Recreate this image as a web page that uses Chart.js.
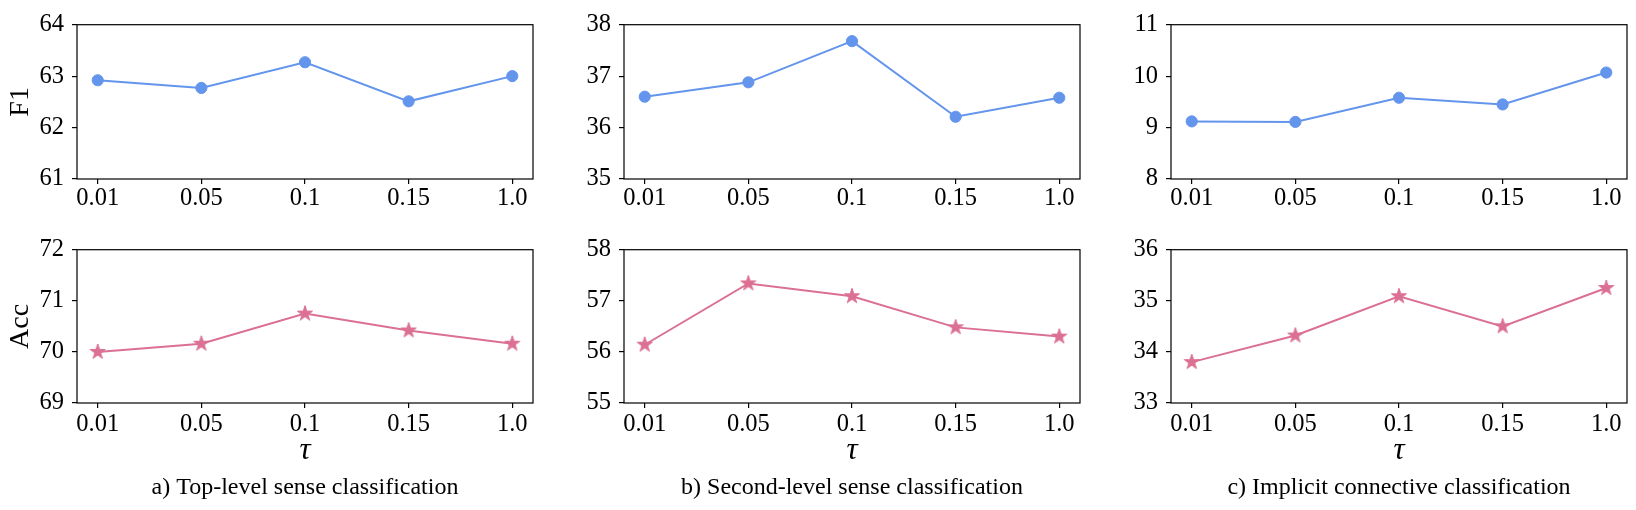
<!DOCTYPE html>
<html><head><meta charset="utf-8">
<script src="https://cdn.jsdelivr.net/npm/chart.js@4.4.1/dist/chart.umd.min.js"></script>
<style>
html,body{margin:0;padding:0;background:#fff;overflow:hidden;width:1636px;height:510px;position:relative;}
canvas{position:absolute;}
</style></head><body>
<script>
// ---- data ----
const tauLabels = ['0.01', '0.05', '0.1', '0.15', '1.0'];
const f1Top = [62.92, 62.77, 63.27, 62.51, 63.00];
const f1Second = [36.60, 36.88, 37.68, 36.21, 36.58];
const f1Conn = [9.12, 9.11, 9.58, 9.45, 10.07];
const accTop = [70.00, 70.16, 70.75, 70.42, 70.16];
const accSecond = [56.14, 57.34, 57.09, 56.48, 56.30];
const accConn = [33.80, 34.32, 35.09, 34.50, 35.25];
const f1Ranges = [[61, 64], [35, 38], [8, 11]];
const accRanges = [[69, 72], [55, 58], [33, 36]];
const captions = ['a) Top-level sense classification', 'b) Second-level sense classification', 'c) Implicit connective classification'];
const rowLabels = ['F1', 'Acc'];
const xTitle = 'τ';

// ---- style / layout ----
const FONT = "'Liberation Serif', 'Times New Roman', serif";
const BLUE = '#6495ED';
const PINK = '#DB7093';
const PL = [77, 624, 1171];
const PW = 456;
const PT = [18, 243];
const PH = [161, 160];
const YW = 77;
const TOPPAD = 16;
const XH = [40, 65];
const CAPH = 42;
const TICK = 24.5;

function makeStar(R, color) {
  let s = Math.ceil(R * 2 + 6);
  if (s % 2) s += 1;
  const c = document.createElement('canvas');
  c.width = s; c.height = s;
  const g = c.getContext('2d');
  g.fillStyle = color;
  g.strokeStyle = color;
  g.lineWidth = 1;
  g.lineJoin = 'round';
  g.beginPath();
  const r = R * 0.381966;
  for (let i = 0; i < 10; i++) {
    const rad = i % 2 === 0 ? R : r;
    const a = -Math.PI / 2 + i * Math.PI / 5;
    const x = s / 2 + rad * Math.cos(a), y = s / 2 + rad * Math.sin(a);
    if (i) g.lineTo(x, y); else g.moveTo(x, y);
  }
  g.closePath();
  g.fill();
  g.stroke();
  return c;
}
const starImg = makeStar(8.0, PINK);

const frame = {
  id: 'frame',
  afterDraw(chart) {
    const {ctx, chartArea: a} = chart;
    ctx.save();
    ctx.strokeStyle = '#000';
    ctx.lineWidth = 1.2;
    ctx.strokeRect(a.left, a.top, a.right - a.left, a.bottom - a.top);
    ctx.restore();
  }
};

function makeChart(r, c, values, range) {
  const cv = document.createElement('canvas');
  const w = YW * 2 + PW;
  const h = TOPPAD + PH[r] + XH[r] + (r === 1 ? CAPH : 0);
  cv.width = w; cv.height = h;
  cv.style.width = w + 'px'; cv.style.height = h + 'px';
  cv.style.left = (PL[c] - YW) + 'px';
  cv.style.top = (PT[r] - TOPPAD) + 'px';
  document.body.appendChild(cv);
  const isBottom = r === 1;
  const color = r === 0 ? BLUE : PINK;
  const gridOpts = {display: true, drawOnChartArea: false, drawTicks: true, tickLength: 5, color: '#000', lineWidth: 1.2};
  new Chart(cv, {
    type: 'line',
    data: {
      datasets: [{
        data: values.map((v, i) => ({x: i, y: v})),
        xAxisID: 'x', yAxisID: 'y',
        borderColor: color, backgroundColor: color,
        borderWidth: 2, tension: 0, fill: false,
        pointStyle: r === 0 ? 'circle' : starImg,
        pointRadius: r === 0 ? 5.6 : 8,
        pointBorderWidth: r === 0 ? 1 : 0,
        pointBorderColor: color, pointBackgroundColor: color
      }]
    },
    options: {
      responsive: false, animation: false, devicePixelRatio: 1,
      layout: {padding: {top: TOPPAD, left: 0, right: 0, bottom: 0}},
      plugins: {
        legend: {display: false}, tooltip: {enabled: false},
        title: {
          display: isBottom, text: captions[c], position: 'bottom', color: '#000',
          font: {family: FONT, size: 24, weight: 'normal', lineHeight: 1.2},
          padding: {top: 5.6, bottom: 7.6}
        }
      },
      scales: {
        x: {
          type: 'linear', position: 'bottom', min: -0.2, max: 4.2,
          afterBuildTicks: ax => { ax.ticks = tauLabels.map((_, i) => ({value: i})); },
          afterFit: ax => { ax.height = XH[r]; },
          ticks: {
            callback: v => (tauLabels[v] !== undefined ? tauLabels[v] : ''),
            color: '#000', font: {family: FONT, size: TICK, lineHeight: 1.2},
            padding: r === 0 ? 0 : 2, maxRotation: 0, autoSkip: false
          },
          grid: gridOpts, border: {display: false},
          title: {
            display: isBottom, text: xTitle, color: '#000',
            font: {family: FONT, size: 31, style: 'italic', lineHeight: 1},
            padding: {top: 0, bottom: 1.5}
          }
        },
        y: {
          type: 'linear', position: 'left', min: range[0], max: range[1],
          afterFit: ax => { ax.width = YW; },
          ticks: {stepSize: 1, color: '#000', font: {family: FONT, size: TICK, lineHeight: 1.2}, padding: 8, callback: v => String(v)},
          grid: gridOpts, border: {display: false},
          title: {
            display: c === 0, text: rowLabels[r], color: '#000',
            font: {family: FONT, size: 28, lineHeight: 1.2},
            padding: {top: 4, bottom: 0}
          }
        },
        yR: {
          type: 'linear', position: 'right', display: true,
          afterFit: ax => { ax.width = YW; },
          ticks: {display: false}, grid: {display: false}, border: {display: false}
        }
      }
    },
    plugins: [frame]
  });
}

const topSeries = [f1Top, f1Second, f1Conn];
const botSeries = [accTop, accSecond, accConn];
for (let c = 0; c < 3; c++) {
  makeChart(0, c, topSeries[c], f1Ranges[c]);
  makeChart(1, c, botSeries[c], accRanges[c]);
}
</script>
</body></html>
